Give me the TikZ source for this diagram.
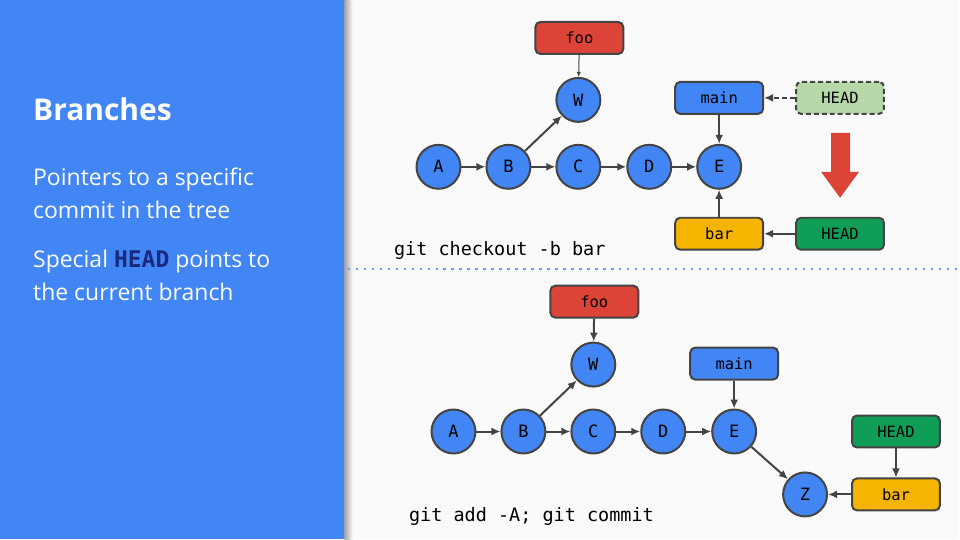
\documentclass[tikz,border=0pt]{standalone}
\usepackage{fontspec}
\setmainfont{Open Sans}
\setmonofont{DejaVu Sans Mono}
\usetikzlibrary{arrows.meta,positioning}
\definecolor{gblue}{HTML}{4285F4}
\definecolor{gred}{HTML}{DB4437}
\definecolor{gyellow}{HTML}{F4B400}
\definecolor{ggreen}{HTML}{0F9D58}
\definecolor{lgreen}{HTML}{B6D7A8}
\definecolor{edge}{HTML}{444444}
\definecolor{bg}{HTML}{FAFAFA}
\definecolor{headblue}{HTML}{1A2A80}

\begin{document}
\begin{tikzpicture}[x=1pt, y=-1pt,
          commit/.style={circle, draw=edge, line width=2pt, fill=gblue, minimum size=44pt, inner sep=0pt, font=\fontsize{17}{17}\selectfont\ttfamily},
          ref/.style={rectangle, rounded corners=5pt, draw=edge, line width=2pt, minimum width=88pt, minimum height=32pt, inner sep=0pt, font=\fontsize{15.5}{15.5}\selectfont\ttfamily},
          link/.style={-{Latex[length=9pt,width=8pt]}, draw=edge, line width=2pt},
          thinlink/.style={-{Latex[length=5pt,width=4.5pt]}, draw=edge, line width=1pt},
          cmd/.style={anchor=west, font=\fontsize{18.5}{18.5}\selectfont\ttfamily},
          txt/.style={anchor=base west, text=white, inner sep=0pt, font=\fontsize{23}{33}\selectfont}]
        % slide background and side panel
        \fill[bg] (0,0) rectangle (960,540);
        \fill[gblue] (0,0) rectangle (345,540);
        \shade[left color=black!35, right color=bg] (345,0) rectangle (353,540);
        \draw[gblue!80, line width=2.2pt, dash pattern=on 2.2pt off 5.8pt] (348,269) -- (960,269);
        \node[txt, font=\fontsize{30}{30}\selectfont\bfseries] (title) at (33,121) {Branches};
        \node[txt] (l1) at (33,186) {Pointers to a specific};
        \node[txt] (l2) at (33,219) {commit in the tree};
        \node[txt] (l3) at (33,268) {Special \textcolor{headblue}{\ttfamily\bfseries HEAD} points to};
        \node[txt] (l4) at (33,301) {the current branch};
        % top: git checkout -b bar
        \foreach \n/\x in {A/439, B/509, C/579, D/650, E/720}
            \node[commit] (t\n) at (\x,167) {\n};
        \node[commit] (tW) at (579,100) {W};
        \node[ref, fill=gred] (tfoo) at (580,38) {foo};
        \node[ref, fill=gblue] (tmain) at (720,98) {main};
        \node[ref, fill=lgreen, dash pattern=on 5pt off 3pt] (told) at (841,98) {HEAD};
        \node[ref, fill=gyellow] (tbar) at (720,234) {bar};
        \node[ref, fill=ggreen] (thead) at (841,234) {HEAD};
        \fill[gred] (832,133) -- (851,133) -- (851,172) -- (860,172) -- (841,198)
            -- (822,172) -- (832,172) -- cycle;
        \foreach \a/\b in {A/B, B/C, C/D, D/E, B/W}
            \draw[link] (t\a) -- (t\b);
        \draw[thinlink] (tfoo) -- (tW);
        \draw[link] (tmain) -- (tE);
        \draw[link] (tbar) -- (tE);
        \draw[link, dash pattern=on 5pt off 3pt] (told) -- (tmain);
        \draw[link] (thead) -- (tbar);
        \node[cmd] (tcmd) at (391,251) {git checkout -b bar};
        % bottom: git add -A; git commit
        \foreach \n/\x in {A/454, B/524, C/594, D/664, E/735}
            \node[commit] (b\n) at (\x,432) {\n};
        \node[commit] (bW) at (594,365) {W};
        \node[commit] (bZ) at (806,495) {Z};
        \node[ref, fill=gred] (bfoo) at (595,302) {foo};
        \node[ref, fill=gblue] (bmain) at (735,364) {main};
        \node[ref, fill=ggreen] (bhead) at (897,432) {HEAD};
        \node[ref, fill=gyellow] (bbar) at (897,495) {bar};
        \foreach \a/\b in {A/B, B/C, C/D, D/E, B/W, foo/W, main/E, E/Z, bar/Z, head/bar}
            \draw[link] (b\a) -- (b\b);
        \node[cmd] (bcmd) at (406,517) {git add -A; git commit};
      \end{tikzpicture}
\end{document}
